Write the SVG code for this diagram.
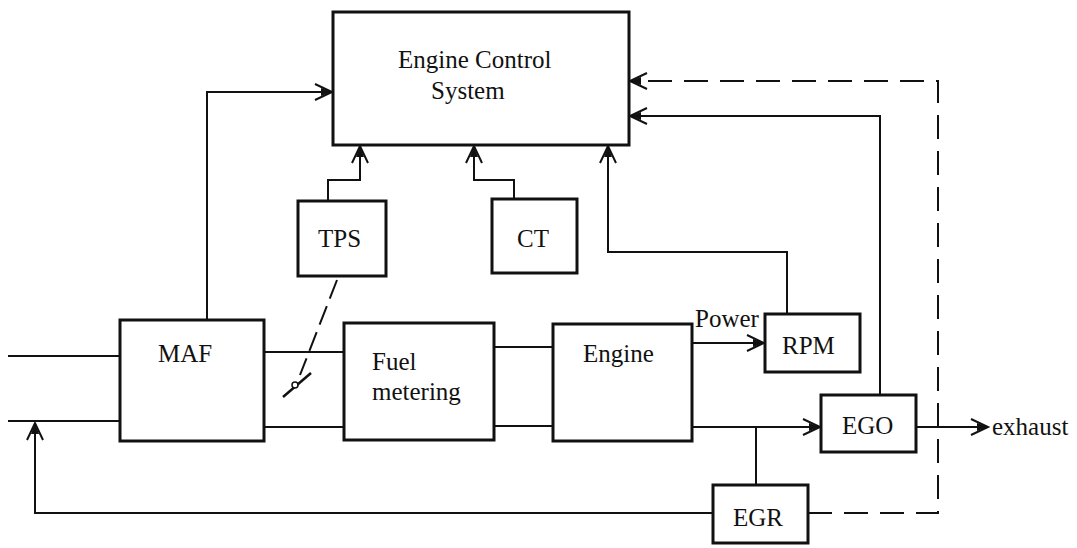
<svg xmlns="http://www.w3.org/2000/svg" width="1077" height="548" viewBox="0 0 1077 548">
<style>
.box{fill:#fff;stroke:#111;stroke-width:3}
.ln{fill:none;stroke:#111;stroke-width:2}
.dash{stroke-dasharray:24 12}
.t{font-family:"Liberation Serif","Times New Roman",serif;font-size:25px;fill:#111}
</style>
<defs>
<marker id="arr" markerUnits="userSpaceOnUse" markerWidth="24" markerHeight="20" viewBox="-20 -10 22 20" refX="0" refY="0" orient="auto" overflow="visible">
<path d="M-17,-8 L0,0 L-17,8" fill="none" stroke="#111" stroke-width="2"/>
<path d="M-11,-4 L0,0 L-11,4 z" fill="#111"/>
</marker>
</defs>
<rect width="1077" height="548" fill="#fff"/>
<g id="connectors">
<path class="ln" d="M207,320 V92 H332" marker-end="url(#arr)"/>
<path class="ln" d="M328,201 V180 H360 V146" marker-end="url(#arr)"/>
<path class="ln" d="M514,199 V180 H474 V146" marker-end="url(#arr)"/>
<path class="ln" d="M787,314 V252 H608 V146" marker-end="url(#arr)"/>
<path class="ln" d="M880,395 V116 H630" marker-end="url(#arr)"/>
<path class="ln dash" d="M808,513 H938 V81 H630" marker-end="url(#arr)"/>
<path class="ln" d="M692,343 H764" marker-end="url(#arr)"/>
<path class="ln" d="M692,427 H820" marker-end="url(#arr)"/>
<path class="ln" d="M916,427 H988" marker-end="url(#arr)"/>
<path class="ln" d="M756,427 V485"/>
<path class="ln" d="M713,513 H35 V423" marker-end="url(#arr)"/>
<path class="ln" d="M8,356 H120 M8,421 H120"/>
<path class="ln" d="M264,352 H344 M264,427 H344"/>
<path class="ln" d="M494,347 H553 M494,426 H553"/>
<path class="ln" d="M337,280 L300,375" style="stroke-dasharray:20 8"/>
<path class="ln" d="M283,397 L311,373" style="stroke-width:2.5"/>
<circle cx="295" cy="385" r="3" fill="#fff" stroke="#111" stroke-width="1.5"/>
</g>
<g id="ecs">
<rect class="box" x="333" y="12" width="296" height="133"/>
<text class="t" x="398" y="68">Engine Control</text>
<text class="t" x="431" y="99">System</text>
</g>
<g id="tps">
<rect class="box" x="298" y="201" width="88" height="75"/>
<text class="t" x="318" y="247">TPS</text>
</g>
<g id="ct">
<rect class="box" x="492" y="199" width="85" height="74"/>
<text class="t" x="517" y="247">CT</text>
</g>
<g id="maf">
<rect class="box" x="120" y="320" width="144" height="121"/>
<text class="t" x="158" y="362">MAF</text>
</g>
<g id="fuel">
<rect class="box" x="344" y="323" width="150" height="117"/>
<text class="t" x="372" y="370">Fuel</text>
<text class="t" x="372" y="400">metering</text>
</g>
<g id="engine">
<rect class="box" x="553" y="324" width="139" height="117"/>
<text class="t" x="583" y="362">Engine</text>
</g>
<g id="power-label">
<text class="t" x="695" y="327">Power</text>
</g>
<g id="rpm">
<rect class="box" x="765" y="314" width="95" height="58"/>
<text class="t" x="782" y="354">RPM</text>
</g>
<g id="ego">
<rect class="box" x="821" y="395" width="95" height="57"/>
<text class="t" x="842" y="434">EGO</text>
</g>
<g id="egr">
<rect class="box" x="713" y="485" width="95" height="58"/>
<text class="t" x="733" y="526">EGR</text>
</g>
<g id="exhaust-label">
<text class="t" x="992" y="435">exhaust</text>
</g>
</svg>
